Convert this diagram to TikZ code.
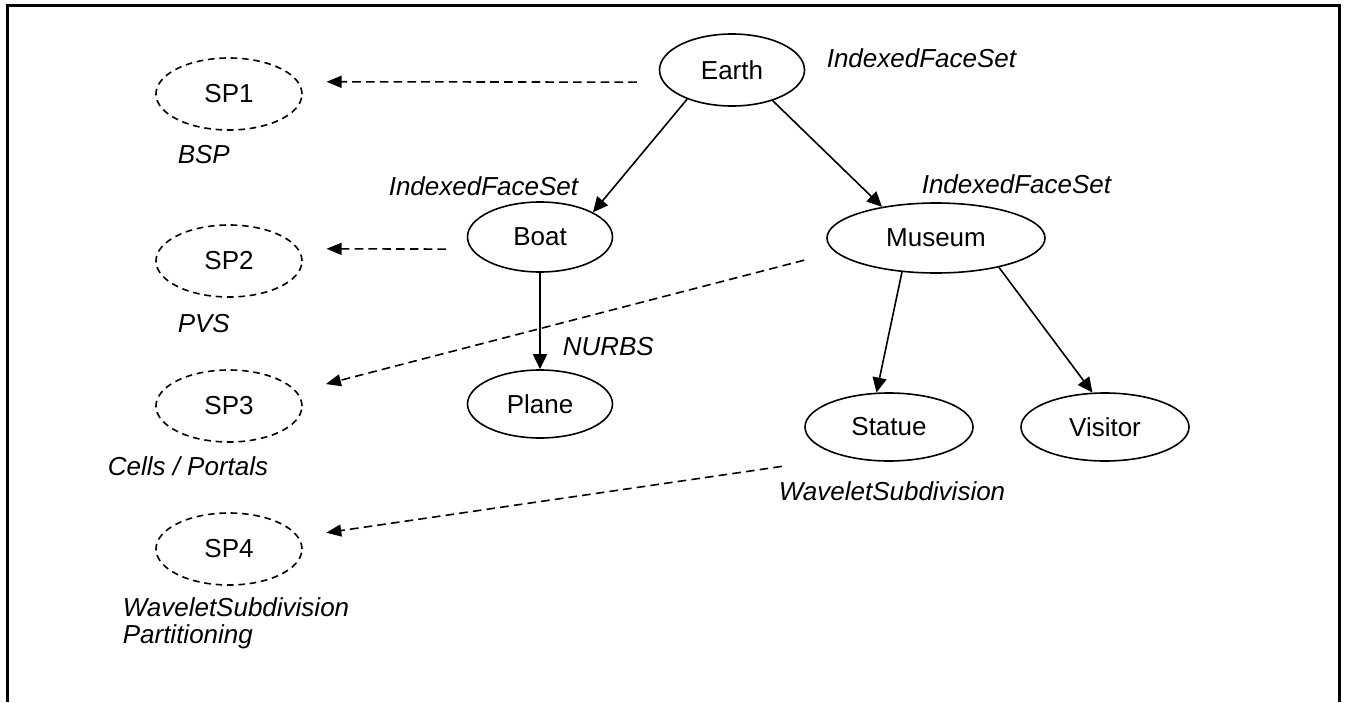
\documentclass[tikz,border=0pt]{standalone}
\usepackage{fontspec}
\setmainfont{Liberation Sans}
\usetikzlibrary{arrows.meta, positioning, shapes.geometric}

\begin{document}
\begin{tikzpicture} [x=0.5pt, y=-0.5pt, on grid, line width=0.8pt, font=\fontsize{13}{13.5}\selectfont,
  obj/.style={ellipse, draw, inner sep=0pt, minimum width=72.5pt, minimum height=35pt},
  sp/.style={obj, minimum width=73pt, minimum height=36pt, dash pattern=on 3.3pt off 2.4pt},
  tag/.style={anchor=base west, inner sep=0pt, font=\fontsize{13}{13.5}\selectfont\itshape},
  link/.style={dash pattern=on 4.3pt off 2.6pt}]
\useasboundingbox (0,0) rectangle (1345,702);
\draw [line width=1.5pt] (7,702) -- (7,5.5) -- (1339,5.5) -- (1339,702);

\node (earth) [obj, minimum height=36pt] at (732,70) {Earth};
\node (boat) [obj, below left = 83.5pt and 96pt of earth] {Boat};
\node (museum) [obj, minimum width=109pt, below right = 84pt and 102pt of earth] {Museum};
\node (plane) [obj, minimum height=34pt, below = 83.5pt of boat] {Plane};
\node (statue) [obj, minimum width=84pt, minimum height=34pt, below left = 94.5pt and 23.5pt of museum] {Statue};
\node (visitor) [obj, minimum width=84pt, minimum height=34pt, right = 108pt of statue] {Visitor};

\node (sp1) [sp] at (229,94) {SP1};
\node (sp2) [sp, below = 83.5pt of sp1] {SP2};
\node (sp3) [sp, below = 72.5pt of sp2] {SP3};
\node (sp4) [sp, below = 71.5pt of sp3] {SP4};

\node (t1) [tag] at (826,67) {IndexedFaceSet};
\node (t2) [tag] at (388,195) {IndexedFaceSet};
\node (t3) [tag] at (921,193) {IndexedFaceSet};
\node (t4) [tag] at (562,355) {NURBS};
\node (t5) [tag] at (778,500) {WaveletSubdivision};
\node (t6) [tag] at (177,163) {BSP};
\node (t7) [tag] at (177,332) {PVS};
\node (t8) [tag] at (107,475) {Cells / Portals};
\node (t9) [tag, anchor=north west, align=left] at (122,597) {WaveletSubdivision\\Partitioning};

\path [-{Triangle[length=7.5pt, width=7pt]}]
    (earth.213) edge (boat.25)
    (earth.323) edge (museum.150)
    (boat.south) edge (plane.north)
    (museum.225) edge (statue.110)
    (museum.335) edge (visitor.110);
\path [link, -{Triangle[length=7.5pt, width=6pt]}]
    (earth.190) edge [shorten <=13pt, shorten >=14pt] (sp1.10)
    (boat.190) edge [shorten <=12.5pt, shorten >=14pt] (sp2.10)
    (museum.188) edge [shorten <=16pt, shorten >=15pt] (sp3.12)
    (statue.215) edge [shorten <=32.5pt, shorten >=14pt] (sp4.10);
\end{tikzpicture}
\end{document}
